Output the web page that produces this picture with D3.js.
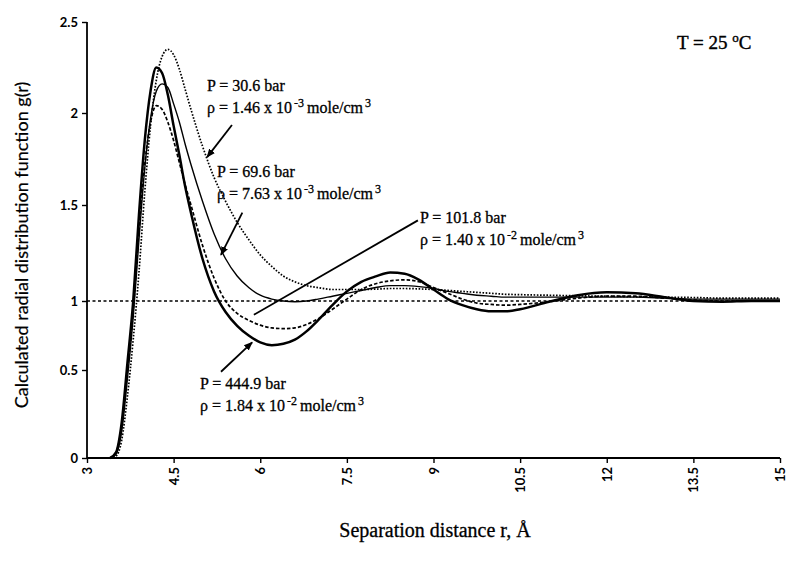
<!DOCTYPE html>
<html><head><meta charset="utf-8">
<script src="https://cdn.jsdelivr.net/npm/d3@7"></script>
<style>body{margin:0;background:#fff}</style>
</head><body>
<svg id="c" width="787" height="570"></svg>
<script>
const rValues = [3.4,3.5,3.6,3.7,3.8,3.9,4.0,4.1,4.2,4.3,4.4,4.5,4.6,4.7,4.8,5.0,5.2,5.4,5.6,5.8,6.0,6.2,6.4,6.6,6.8,7.0,7.25,7.5,7.75,8.0,8.25,8.5,8.75,9.0,9.25,9.5,9.75,10.0,10.25,10.5,11.0,11.5,12.0,12.5,13.0,13.5,14.0,14.5,15.0];
const g_30_6 = [0,0.01,0.1,0.35,0.72,1.15,1.57,1.93,2.18,2.31,2.35,2.32,2.24,2.13,2.02,1.82,1.65,1.52,1.41,1.32,1.24,1.18,1.13,1.1,1.08,1.07,1.06,1.06,1.06,1.062,1.065,1.065,1.063,1.06,1.055,1.05,1.045,1.04,1.035,1.033,1.03,1.027,1.025,1.022,1.02,1.018,1.015,1.015,1.015];
const g_69_6 = [0,0.02,0.15,0.45,0.88,1.32,1.7,1.97,2.12,2.16,2.14,2.05,1.95,1.83,1.72,1.52,1.35,1.22,1.13,1.07,1.03,1.01,1.0,0.995,1.0,1.01,1.025,1.04,1.055,1.07,1.08,1.08,1.075,1.065,1.05,1.04,1.03,1.025,1.02,1.02,1.02,1.02,1.02,1.02,1.015,1.01,1.01,1.01,1.01];
const g_101_8 = [0,0.03,0.18,0.5,0.93,1.37,1.72,1.95,2.04,2.02,1.95,1.85,1.73,1.61,1.5,1.29,1.12,1.0,0.91,0.86,0.825,0.805,0.8,0.805,0.83,0.87,0.94,1.01,1.06,1.09,1.105,1.11,1.1,1.07,1.04,1.01,0.985,0.975,0.97,0.975,0.995,1.015,1.025,1.025,1.015,1.005,1.0,1.0,1.0];
const g_444_9 = [0,0.03,0.2,0.55,1.0,1.45,1.85,2.12,2.25,2.22,2.1,1.93,1.77,1.6,1.46,1.22,1.05,0.92,0.82,0.75,0.7,0.68,0.69,0.72,0.78,0.86,0.97,1.05,1.1,1.128,1.148,1.142,1.11,1.06,1.01,0.97,0.94,0.925,0.925,0.94,0.995,1.03,1.045,1.04,1.02,1.0,0.995,1.0,1.0];
const xTicks = [3,4.5,6,7.5,9,10.5,12,13.5,15];
const yTicks = [0,0.5,1,1.5,2,2.5];
const seriesNames = ["30.6","69.6","101.8","444.9"];

const svg = d3.select("#c");
const x = d3.scaleLinear().domain([3,15]).range([87,780]);
// the scanned axis is slightly uneven; piecewise-linear scale follows its tick positions
const y = d3.scaleLinear().domain(yTicks).range([458,370,301,205,113,22]);

const sans = "Lato, 'Open Sans', sans-serif";
const serif = "'Liberation Serif','Times New Roman',serif";

const yAxis = d3.axisLeft(y).tickValues(yTicks).tickSize(5).tickFormat(d3.format("~g"));
const gy = svg.append("g").attr("transform","translate(87,0)").call(yAxis);
gy.select(".domain").attr("stroke","#000").attr("stroke-width",1.8).attr("d","M0,22V458");
gy.selectAll(".tick line").attr("stroke-width",1.4);
gy.selectAll(".tick text").attr("font-family",sans).attr("font-weight","bold").attr("font-size",13).attr("dx",-1);

const xAxis = d3.axisBottom(x).tickValues(xTicks).tickSize(5).tickFormat(d3.format("~g"));
const gx = svg.append("g").attr("transform","translate(0,458)").call(xAxis);
gx.select(".domain").attr("stroke","#000").attr("stroke-width",1.8).attr("d","M87,0H780");
gx.selectAll(".tick line").attr("stroke-width",1.4);
gx.selectAll(".tick text").attr("font-family",sans).attr("font-weight","bold").attr("font-size",13)
  .attr("transform","rotate(-90)").attr("text-anchor","end").attr("x",-9).attr("y",0).attr("dy","0.35em");

svg.append("line").attr("x1",x(3)).attr("x2",x(15)).attr("y1",y(1)).attr("y2",y(1))
  .attr("stroke","#000").attr("stroke-width",1.4).attr("stroke-dasharray","3,2.5");

const line = d3.line().x((d,i)=>x(rValues[i])).y(d=>y(d)).curve(d3.curveMonotoneX);
const styles = [
  {data:g_30_6, w:1.7, dash:"1.6,1.6"},
  {data:g_69_6, w:1.4, dash:null},
  {data:g_101_8, w:1.7, dash:"3.5,2"},
  {data:g_444_9, w:2.5, dash:null}
];
styles.forEach(s=>{
  const p = svg.append("path").datum(s.data).attr("d",line).attr("fill","none")
    .attr("stroke","#000").attr("stroke-width",s.w);
  if(s.dash) p.attr("stroke-dasharray",s.dash);
});

svg.append("defs").append("marker").attr("id","ah").attr("viewBox","0 0 10 10").attr("refX",9).attr("refY",5)
  .attr("markerWidth",5).attr("markerHeight",5).attr("orient","auto")
  .append("path").attr("d","M0,1L10,5L0,9Z").attr("fill","#000");

function arrow(r1,g1,r2,g2,head){
  const l = svg.append("line").attr("x1",x(r1)).attr("y1",y(g1)).attr("x2",x(r2)).attr("y2",y(g2))
    .attr("stroke","#000").attr("stroke-width",1.8);
  if(head) l.attr("marker-end","url(#ah)");
}
arrow(5.51,1.935,5.08,1.76,true);
arrow(5.69,1.46,5.32,1.24,true);
arrow(8.73,1.42,5.89,0.9,false);
arrow(5.32,0.49,5.86,0.7,true);

function annot(tx,ty,p,rho,exp){
  svg.append("text").attr("x",tx).attr("y",ty).attr("font-family",serif).attr("font-size",16)
    .attr("stroke","#000").attr("stroke-width",0.3).text("P = "+p+" bar");
  const t2 = svg.append("text").attr("x",tx).attr("y",ty+22).attr("font-family",serif).attr("font-size",16)
    .attr("stroke","#000").attr("stroke-width",0.3);
  t2.append("tspan").text("\u03C1 = "+rho+" x 10");
  t2.append("tspan").attr("dy",-6).attr("dx",2).attr("font-size",12).text("-"+exp);
  t2.append("tspan").attr("dy",6).attr("dx",3).text("mole/cm");
  t2.append("tspan").attr("dy",-6).attr("dx",2).attr("font-size",12).text("3");
}
annot(207,91,seriesNames[0],"1.46","3");
annot(217,177,seriesNames[1],"7.63","3");
annot(420,223,seriesNames[2],"1.40","2");
annot(200,389,seriesNames[3],"1.84","2");

const tt = svg.append("text").attr("x",677).attr("y",49).attr("font-family",serif).attr("font-size",19)
  .attr("stroke","#000").attr("stroke-width",0.4);
tt.append("tspan").text("T = 25 ");
tt.append("tspan").attr("dy",-7).attr("font-size",13).text("o");
tt.append("tspan").attr("dy",7).text("C");

svg.append("text").attr("x",435).attr("y",537).attr("text-anchor","middle").attr("font-family",serif).attr("font-size",20)
  .attr("stroke","#000").attr("stroke-width",0.3).text("Separation distance r, \u00C5");
svg.append("text").attr("transform","translate(28,245) rotate(-90)").attr("text-anchor","middle")
  .attr("font-family",sans).attr("font-size",18).attr("stroke","#000").attr("stroke-width",0.2)
  .text("Calculated radial distribution function g(r)");
</script>
</body></html>
